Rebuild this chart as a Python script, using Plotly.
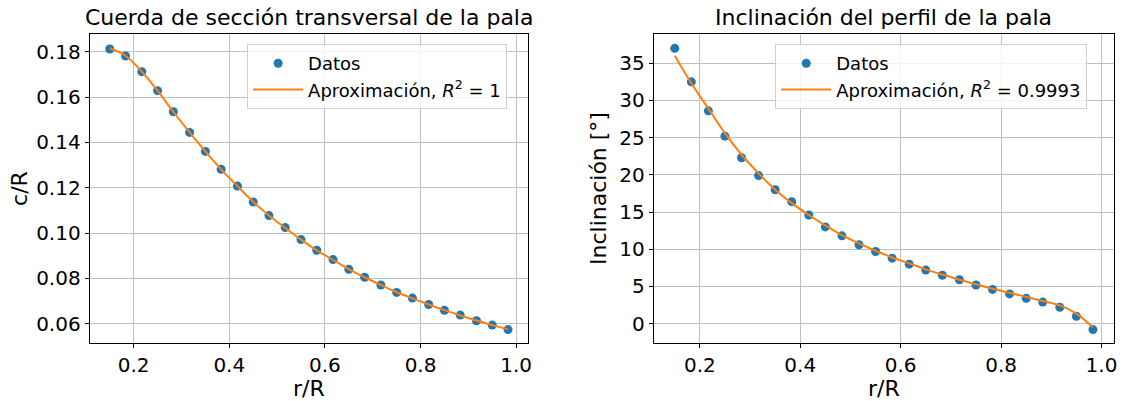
import plotly.graph_objects as go

# ---- data ----
r_R = [0.150, 0.183, 0.217, 0.250, 0.283, 0.317, 0.350, 0.383, 0.417, 0.450,
       0.483, 0.517, 0.550, 0.583, 0.617, 0.650, 0.683, 0.717, 0.750, 0.783,
       0.817, 0.850, 0.883, 0.917, 0.950, 0.983]

c_R_datos = [0.1812, 0.1781, 0.1712, 0.1628, 0.1535, 0.1444, 0.1360, 0.1281, 0.1207, 0.1137,
             0.1077, 0.1024, 0.0971, 0.0924, 0.0883, 0.0840, 0.0805, 0.0771, 0.0738, 0.0713,
             0.0685, 0.0659, 0.0638, 0.0613, 0.0594, 0.0574]
c_R_ajuste = [0.1815, 0.1782, 0.1712, 0.1628, 0.1535, 0.1444, 0.1360, 0.1281, 0.1207, 0.1138,
              0.1077, 0.1023, 0.0971, 0.0924, 0.0882, 0.0841, 0.0805, 0.0771, 0.0739, 0.0712,
              0.0685, 0.0660, 0.0637, 0.0614, 0.0594, 0.0575]

incl_datos = [37.0, 32.5, 28.6, 25.2, 22.3, 19.9, 18.0, 16.4, 14.6, 13.0,
              11.8, 10.6, 9.7, 8.8, 8.0, 7.2, 6.5, 5.9, 5.2, 4.6,
              4.0, 3.4, 2.9, 2.2, 1.0, -0.8]
incl_ajuste = [36.0, 32.3, 28.9, 25.6, 22.7, 20.2, 18.0, 16.2, 14.6, 13.2,
               11.9, 10.8, 9.8, 8.9, 8.1, 7.3, 6.6, 5.9, 5.3, 4.7,
               4.15, 3.6, 3.05, 2.45, 1.35, -0.5]

titulos = ["Cuerda de sección transversal de la pala", "Inclinación del perfil de la pala"]
etiqueta_x = "r/R"
etiquetas_y = ["c/R", "Inclinación [°]"]
leyenda_datos = "Datos"
leyenda_ajuste = ["Aproximación, <i>R</i><sup>2</sup> = 1", "Aproximación, <i>R</i><sup>2</sup> = 0.9993"]

BLUE = "#1f77b4"
ORANGE = "#ff7f0e"
FONT = "DejaVu Sans"
W, H = 1128, 401
TICK_SIZE = 20
LABEL_SIZE = 22
TITLE_SIZE = 22
LEGEND_SIZE = 18

fig = go.Figure()

# left panel
fig.add_trace(go.Scatter(x=r_R, y=c_R_datos, mode="markers", name=leyenda_datos,
                         marker=dict(color=BLUE, size=9), xaxis="x", yaxis="y", legend="legend"))
fig.add_trace(go.Scatter(x=r_R, y=c_R_ajuste, mode="lines", name=leyenda_ajuste[0],
                         line=dict(color=ORANGE, width=2, shape="spline"), xaxis="x", yaxis="y", legend="legend"))
# right panel
fig.add_trace(go.Scatter(x=r_R, y=incl_datos, mode="markers", name=leyenda_datos,
                         marker=dict(color=BLUE, size=9), xaxis="x2", yaxis="y2", legend="legend2"))
fig.add_trace(go.Scatter(x=r_R, y=incl_ajuste, mode="lines", name=leyenda_ajuste[1],
                         line=dict(color=ORANGE, width=2, shape="spline"), xaxis="x2", yaxis="y2", legend="legend2"))

def px_x(p):
    return p / W

def px_y(p):
    return 1 - p / H

axis_common = dict(showgrid=True, gridcolor="#c0c0c0", gridwidth=1,
                   showline=True, linecolor="black", linewidth=1, mirror=True,
                   ticks="outside", ticklen=4, tickcolor="black",
                   tickfont=dict(family=FONT, size=TICK_SIZE, color="black"),
                   zeroline=False)

dom_y = [px_y(343), px_y(34)]

legend_common = dict(xanchor="left", yanchor="top",
                     bgcolor="rgba(255,255,255,0.8)", bordercolor="#d0d0d0", borderwidth=1,
                     font=dict(family=FONT, size=LEGEND_SIZE, color="black"),
                     tracegroupgap=0, itemwidth=50)

fig.update_layout(
    width=W, height=H,
    margin=dict(l=0, r=0, t=0, b=0),
    plot_bgcolor="white", paper_bgcolor="white",
    font=dict(family=FONT, color="black"),
    showlegend=True,
    xaxis=dict(domain=[px_x(90), px_x(530)], range=[0.108, 1.025], anchor="y",
               tickvals=[0.2, 0.4, 0.6, 0.8, 1.0], tickformat=".1f",
               title=dict(text=etiqueta_x, font=dict(family=FONT, size=LABEL_SIZE), standoff=2),
               **axis_common),
    yaxis=dict(domain=dom_y, range=[0.0515, 0.1878], anchor="x",
               tickvals=[0.06, 0.08, 0.10, 0.12, 0.14, 0.16, 0.18], tickformat=".2f",
               title=dict(text=etiquetas_y[0], font=dict(family=FONT, size=LABEL_SIZE), standoff=2),
               **axis_common),
    xaxis2=dict(domain=[px_x(656), px_x(1118)], range=[0.108, 1.025], anchor="y2",
                tickvals=[0.2, 0.4, 0.6, 0.8, 1.0], tickformat=".1f",
                title=dict(text=etiqueta_x, font=dict(family=FONT, size=LABEL_SIZE), standoff=2),
                **axis_common),
    yaxis2=dict(domain=dom_y, range=[-2.6, 38.93], anchor="x2",
                tickvals=[0, 5, 10, 15, 20, 25, 30, 35],
                title=dict(text=etiquetas_y[1], font=dict(family=FONT, size=LABEL_SIZE), standoff=6),
                **axis_common),
    legend=dict(x=px_x(248), y=px_y(44), **legend_common),
    legend2=dict(x=px_x(778), y=px_y(44), **legend_common),
    annotations=[
        dict(text=titulos[0], x=(px_x(90) + px_x(530)) / 2, y=px_y(17), xref="paper", yref="paper",
             showarrow=False, font=dict(family=FONT, size=TITLE_SIZE, color="black"), xanchor="center", yanchor="middle"),
        dict(text=titulos[1], x=(px_x(656) + px_x(1118)) / 2, y=px_y(17), xref="paper", yref="paper",
             showarrow=False, font=dict(family=FONT, size=TITLE_SIZE, color="black"), xanchor="center", yanchor="middle"),
    ],
)

fig.write_html("out.html")
